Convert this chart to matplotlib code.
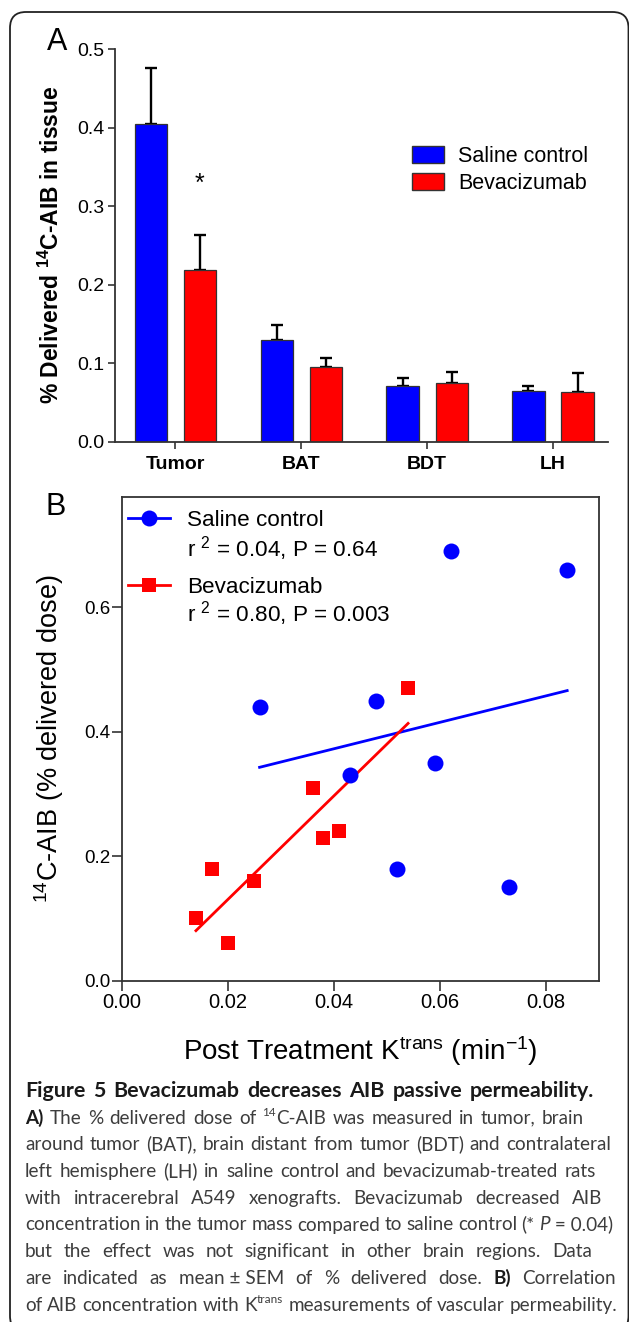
import numpy as np
import matplotlib
matplotlib.use("Agg")
import matplotlib.pyplot as plt
from matplotlib.patches import FancyBboxPatch, Patch
from matplotlib.lines import Line2D
from matplotlib.transforms import IdentityTransform
from matplotlib.font_manager import FontProperties
from matplotlib.ticker import FormatStrFormatter

# ---------------- data ----------------
regions = ["Tumor", "BAT", "BDT", "LH"]
saline_mean = [0.405, 0.129, 0.071, 0.065]
saline_sem = [0.071, 0.020, 0.010, 0.006]
bev_mean = [0.219, 0.095, 0.075, 0.063]
bev_sem = [0.045, 0.012, 0.014, 0.024]

saline_ktrans = [0.026, 0.048, 0.043, 0.059, 0.052, 0.062, 0.084, 0.073]
saline_aib = [0.44, 0.45, 0.33, 0.35, 0.18, 0.69, 0.66, 0.15]
bev_ktrans = [0.014, 0.017, 0.020, 0.025, 0.036, 0.038, 0.041, 0.054]
bev_aib = [0.10, 0.18, 0.06, 0.16, 0.31, 0.23, 0.24, 0.47]

saline_label = "Saline control"
bev_label = "Bevacizumab"
saline_stats = r"r $^2$ = 0.04, P = 0.64"
bev_stats = r"r $^2$ = 0.80, P = 0.003"

plt.rcParams["font.family"] = ["Liberation Sans", "DejaVu Sans"]
plt.rcParams["mathtext.fontset"] = "custom"
plt.rcParams["mathtext.rm"] = "Liberation Sans"
plt.rcParams["mathtext.it"] = "Liberation Sans:italic"
plt.rcParams["mathtext.bf"] = "Liberation Sans:bold"

W, H = 629, 1322
fig = plt.figure(figsize=(W / 100, H / 100), dpi=100)
BLUE, RED = "#0000FF", "#FF0000"
SPINE = "#333333"
PIX = IdentityTransform()


def fx(x):
    return x / W


def fy(y):
    return 1 - y / H


# ---------------- Panel A ----------------
axA = fig.add_axes([fx(114.5), fy(441.7), (608 - 114.5) / W, (441.7 - 49.3) / H])
x = np.arange(len(regions))
off, bw = 0.195, 0.256
axA.bar(x - off, saline_mean, bw, color=BLUE, edgecolor=SPINE, linewidth=0.9, zorder=2)
axA.bar(x + off, bev_mean, bw, color=RED, edgecolor=SPINE, linewidth=0.9, zorder=2)
axA.errorbar(x - off, saline_mean, yerr=[np.zeros(len(x)), saline_sem], fmt="none",
             ecolor="black", elinewidth=1.7, capsize=4, capthick=1.7, zorder=1)
axA.errorbar(x + off, bev_mean, yerr=[np.zeros(len(x)), bev_sem], fmt="none",
             ecolor="black", elinewidth=1.7, capsize=4, capthick=1.7, zorder=1)
axA.set_xlim(-0.484, 3.437)
axA.set_ylim(0, 0.5)
axA.set_yticks(np.arange(0, 0.51, 0.1))
axA.yaxis.set_major_formatter(FormatStrFormatter("%.1f"))
axA.set_xticks(x)
axA.set_xticklabels(regions, fontweight="bold", fontsize=14)
for s in ["top", "right"]:
    axA.spines[s].set_visible(False)
for s in ["left", "bottom"]:
    axA.spines[s].set_color(SPINE)
    axA.spines[s].set_linewidth(1.3)
axA.tick_params(axis="y", direction="out", length=5, width=1.2, color=SPINE,
                labelsize=14, pad=2)
axA.tick_params(axis="x", direction="out", length=5, width=1.2, color=SPINE, pad=5)
axA.text(x[0] + off, 0.328, "*", ha="center", va="center", fontsize=18)
axA.legend(handles=[Patch(facecolor=BLUE, edgecolor=SPINE, label=saline_label),
                    Patch(facecolor=RED, edgecolor=SPINE, label=bev_label)],
           loc="upper left", bbox_to_anchor=(fx(412), fy(146)),
           bbox_transform=fig.transFigure, frameon=False, fontsize=15.5,
           handlelength=1.49, handleheight=0.84, handletextpad=0.65,
           labelspacing=0.29, borderpad=0, borderaxespad=0)
fig.text(fx(51), fy(245), r"% Delivered $^{\mathbf{14}}$C-AIB in tissue", rotation=90,
         ha="center", va="center", fontsize=16.5, fontweight="bold")
fig.text(fx(47), fy(50), "A", fontsize=22, va="baseline", ha="left")

# ---------------- Panel B ----------------
axB = fig.add_axes([fx(121.7), fy(980.7), (599 - 121.7) / W, (980.7 - 497) / H])
axB.plot(saline_ktrans, saline_aib, "o", color=BLUE, ms=11.5, mew=0, zorder=3)
axB.plot(bev_ktrans, bev_aib, "s", color=RED, ms=10, mew=0, zorder=3)
for xs, ys, c in [(saline_ktrans, saline_aib, BLUE), (bev_ktrans, bev_aib, RED)]:
    k, b = np.polyfit(xs, ys, 1)
    xx = np.array([min(xs), max(xs)])
    axB.plot(xx, k * xx + b, color=c, lw=2, zorder=2)
axB.set_xlim(0, 0.09)
axB.set_ylim(0, 0.777)
axB.set_xticks([0, 0.02, 0.04, 0.06, 0.08])
axB.set_yticks([0, 0.2, 0.4, 0.6])
axB.xaxis.set_major_formatter(FormatStrFormatter("%.2f"))
axB.yaxis.set_major_formatter(FormatStrFormatter("%.1f"))
for s in axB.spines.values():
    s.set_color(SPINE)
    s.set_linewidth(1.3)
axB.tick_params(axis="x", direction="out", length=7, width=1.2, color=SPINE,
                labelsize=14.5, pad=2)
axB.tick_params(axis="y", direction="out", length=7, width=1.2, color=SPINE,
                labelsize=13.5, pad=1)

# legend of panel B (keys drawn in pixel space, text rows placed individually)
for yk, c, mk, ms in [(517.7, BLUE, "o", 11.5), (585, RED, "s", 10)]:
    fig.add_artist(Line2D([128, 170], [H - yk, H - yk], transform=PIX, color=c, lw=2))
    fig.add_artist(Line2D([149], [H - yk], transform=PIX, color=c, marker=mk,
                          ms=ms, mew=0, linestyle="none"))
for yb, txt in [(526, saline_label), (556.5, saline_stats), (593, bev_label), (621.5, bev_stats)]:
    fig.text(fx(187), fy(yb), txt, fontsize=16.2, va="baseline", ha="left")

fig.text(fx(49), fy(739), r"$^{14}$C-AIB (% delivered dose)", rotation=90,
         ha="center", va="center", fontsize=19.5)
fig.text(fx(360), fy(1060), r"Post Treatment K$^{\mathrm{trans}}$ (min$^{-1}$)",
         ha="center", va="baseline", fontsize=20)
fig.text(fx(46), fy(515), "B", fontsize=22, va="baseline", ha="left")

# ---------------- border ----------------
fig.add_artist(FancyBboxPatch((10, -10), 618.5, H - 12 + 10,
                              boxstyle="round,pad=0,rounding_size=16",
                              transform=PIX, fill=False, ec="#222222", lw=1.3))

# ---------------- caption ----------------
N, B, I, S = "n", "b", "i", "s"
cap_lines = [
    [[("Figure", B)], [("5", B)], [("Bevacizumab", B)], [("decreases", B)],
     [("AIB", B)], [("passive", B)], [("permeability.", B)]],
    [[("A)", B)]] + [[(w, N)] for w in "The % delivered dose of".split()]
    + [[("14", S), ("C-AIB", N)]]
    + [[(w, N)] for w in "was measured in tumor, brain".split()],
    [[(w, N)] for w in "around tumor (BAT), brain distant from tumor (BDT) and contralateral".split()],
    [[(w, N)] for w in "left hemisphere (LH) in saline control and bevacizumab-treated rats".split()],
    [[(w, N)] for w in "with intracerebral A549 xenografts. Bevacizumab decreased AIB".split()],
    [[(w, N)] for w in "concentration in the tumor mass compared to saline control (*".split()]
    + [[("P", I), (" = 0.04)", N)]],
    [[(w, N)] for w in "but the effect was not significant in other brain regions. Data".split()],
    [[(w, N)] for w in "are indicated as".split()] + [[("mean ± SEM", N)]]
    + [[(w, N)] for w in "of % delivered dose.".split()] + [[("B)", B)], [("Correlation", N)]],
    [[(w, N)] for w in "of AIB concentration with".split()] + [[("K", N), ("trans", S)]]
    + [[(w, N)] for w in "measurements of vascular permeability.".split()],
]
right_edges = [594, 584, 611, 596, 602, 613, 592, 616, 614]
justify = [True] * 8 + [False]
cap_left = 25
base0, lstep = 1097, 26.7
renderer = fig.canvas.get_renderer()
CAPFAM = ["Lato", "DejaVu Sans"]


def fprops(style, size):
    return FontProperties(family=CAPFAM, size=size * (0.62 if style == S else 1.0),
                          weight="bold" if style == B else "normal",
                          style="italic" if style == I else "normal")


def seg_w(txt, style, size):
    w, h, d = renderer.get_text_width_height_descent(txt, fprops(style, size), ismath=False)
    return w


def word_w(word, size):
    return sum(seg_w(t, st, size) for t, st in word)


def space_w(size):
    return seg_w("a a", N, size) - seg_w("aa", N, size)


ref = 12.0
ratios = []
for i, (ln, re, jf) in enumerate(zip(cap_lines, right_edges, justify)):
    if i == 0:
        continue
    sp = space_w(ref) * (0.75 if jf else 1.0)
    nat = sum(word_w(wd, ref) for wd in ln) + sp * (len(ln) - 1)
    ratios.append((re - cap_left) / nat)
cap_size = ref * min(ratios)

# bold title line sized to fill its width with moderately wide gaps
title = cap_lines[0]
nat_t = sum(word_w(wd, ref) for wd in title) + 1.5 * space_w(ref) * (len(title) - 1)
title_size = ref * (right_edges[0] - cap_left) / nat_t

for i, (ln, re, jf) in enumerate(zip(cap_lines, right_edges, justify)):
    base = base0 + i * lstep
    size = title_size if i == 0 else cap_size
    widths = [word_w(wd, size) for wd in ln]
    if jf and len(ln) > 1:
        gap = ((re - cap_left) - sum(widths)) / (len(ln) - 1)
    else:
        gap = space_w(size)
    xpos = cap_left
    for wd, ww in zip(ln, widths):
        xs = xpos
        for t, st in wd:
            fp = fprops(st, size)
            rise = 0.42 * size * 100 / 72 if st == S else 0
            col = "#1a1a1a" if st == B else "#3d3d3d"
            fig.text(fx(xs), fy(base - rise), t, fontproperties=fp, color=col,
                     ha="left", va="baseline")
            xs += seg_w(t, st, size)
        xpos += ww + gap

fig.savefig("out.png", dpi=100)
